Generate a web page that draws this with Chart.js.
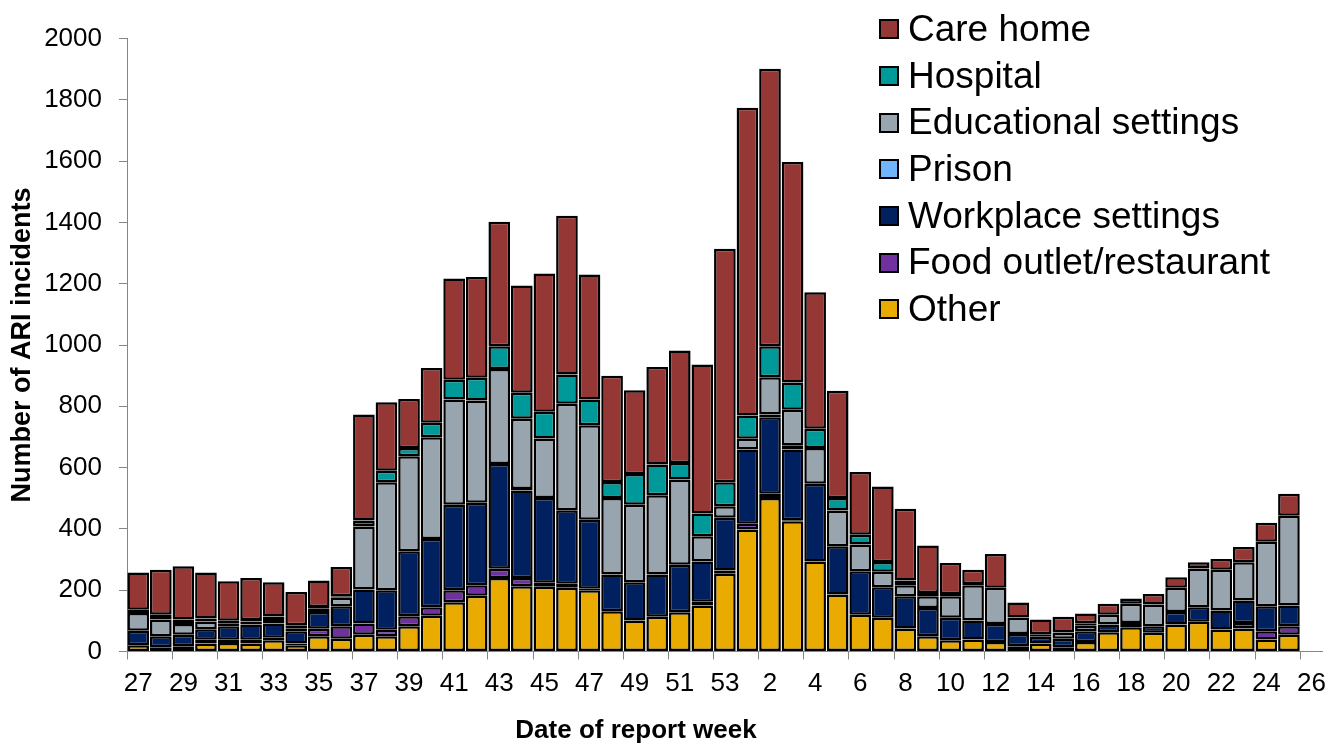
<!DOCTYPE html>
<html>
<head>
<meta charset="utf-8">
<title>ARI incidents by setting</title>
<script src="https://cdn.jsdelivr.net/npm/chart.js@4"></script>
<style>
	body { margin: 0; background: #fff; }
	#wrap { position: relative; width: 1335px; height: 747px; }
	#legend {
		position: absolute; left: 879px; top: 6px;
		font-family: 'Liberation Sans', Arial, sans-serif; font-size: 37px; color: #000;
	}
	.item { display: flex; align-items: center; height: 46.7px; line-height: 46.7px; white-space: nowrap; }
	.box { width: 16px; height: 16px; border: 2px solid #000; margin-right: 9px; }
	#xTitle {
		position: absolute; left: 0; width: 1272px; top: 713px; text-align: center;
		font: bold 26px 'Liberation Sans', Arial, sans-serif; line-height: 32px; color: #000;
	}
</style>
</head>
<body>
<div id="wrap">
	<canvas id="ariChart" width="1335" height="747"></canvas>
	<div id="legend"></div>
	<div id="xTitle">Date of report week</div>
</div>
<script>
// Report weeks (27-53 then 1-26)
const weeks = ['27', '28', '29', '30', '31', '32', '33', '34', '35', '36', '37', '38', '39', '40', '41', '42', '43', '44', '45', '46', '47', '48', '49', '50', '51', '52', '53',
	'1', '2', '3', '4', '5', '6', '7', '8', '9', '10', '11', '12', '13', '14', '15', '16', '17', '18', '19', '20', '21', '22', '23', '24', '25', '26'];

// Incidents per setting, one value per week (week 26 has no data yet)
const other = [20, 14, 17, 26, 28, 26, 37, 20, 50, 42, 55, 50, 82, 117, 161, 182, 240, 213, 211, 208, 200, 131, 101, 113, 128, 150, 254,
	398, 501, 425, 294, 186, 120, 110, 75, 50, 37, 39, 31, 17, 26, 14, 31, 63, 79, 61, 88, 97, 72, 75, 39, 55, null];
const foodOutlet = [0, 0, 0, 12, 10, 12, 8, 6, 24, 40, 36, 21, 33, 27, 39, 34, 30, 27, 13, 13, 5, 0, 0, 0, 0, 12, 10,
	19, 14, 3, 0, 0, 0, 0, 0, 0, 0, 0, 0, 0, 0, 0, 0, 0, 0, 0, 0, 0, 0, 18, 27, 27, null];
const workplace = [48, 36, 38, 35, 44, 50, 46, 40, 55, 66, 111, 129, 212, 223, 279, 269, 342, 285, 277, 240, 225, 120, 125, 138, 155, 132, 172,
	242, 249, 231, 253, 157, 142, 100, 105, 92, 73, 62, 59, 40, 22, 28, 35, 25, 14, 21, 41, 47, 62, 73, 82, 68, null];
const prison = [0, 0, 0, 0, 0, 0, 0, 0, 0, 0, 0, 0, 0, 0, 0, 0, 0, 5, 0, 0, 0, 0, 0, 0, 0, 0, 0,
	0, 9, 14, 0, 0, 0, 0, 0, 0, 0, 0, 0, 0, 0, 0, 0, 0, 0, 0, 0, 0, 0, 0, 0, 0, null];
const educational = [58, 54, 35, 25, 10, 10, 15, 10, 12, 27, 206, 352, 310, 332, 343, 334, 310, 229, 194, 347, 308, 250, 253, 259, 278, 82, 38,
	35, 122, 116, 117, 117, 87, 50, 36, 38, 70, 115, 118, 54, 8, 20, 18, 32, 63, 71, 79, 127, 133, 125, 210, 293, null];
const hospital = [10, 16, 14, 10, 8, 5, 8, 10, 4, 5, 19, 38, 27, 47, 65, 74, 74, 85, 87, 96, 84, 52, 100, 100, 54, 74, 78,
	76, 101, 89, 63, 41, 32, 32, 16, 11, 8, 4, 0, 0, 0, 0, 8, 0, 0, 0, 0, 0, 0, 0, 0, 0, null];
const careHome = [122, 147, 174, 150, 129, 137, 112, 108, 87, 96, 346, 223, 160, 179, 330, 329, 406, 350, 451, 518, 408, 347, 273, 318, 367, 486, 762,
	1004, 905, 719, 445, 350, 205, 246, 234, 155, 101, 47, 110, 49, 48, 51, 32, 36, 17, 35, 34, 20, 35, 50, 62, 72, null];

// Stack order, bottom first
const series = [
	{ label: 'Other', data: other, color: '#EAAB00' },
	{ label: 'Food outlet/restaurant', data: foodOutlet, color: '#7030A0' },
	{ label: 'Workplace settings', data: workplace, color: '#002060' },
	{ label: 'Prison', data: prison, color: '#6FB6FF' },
	{ label: 'Educational settings', data: educational, color: '#98A4AE' },
	{ label: 'Hospital', data: hospital, color: '#009999' },
	{ label: 'Care home', data: careHome, color: '#953735' }
];

const axisGrey = '#868686';
Chart.defaults.font.family = "'Liberation Sans', Arial, sans-serif";
Chart.defaults.color = '#000';

new Chart(document.getElementById('ariChart'), {
	type: 'bar',
	data: {
		labels: weeks,
		datasets: series.map((s) => ({
			label: s.label,
			data: s.data,
			backgroundColor: s.color,
			borderColor: '#000',
			borderWidth: 2.5,
			borderSkipped: false,
			barPercentage: 0.96,
			categoryPercentage: 1
		}))
	},
	options: {
		responsive: false,
		animation: false,
		devicePixelRatio: 1,
		layout: { padding: { top: 38.5, right: 5, left: 0, bottom: 0 } },
		plugins: { legend: { display: false }, tooltip: { enabled: false } },
		scales: {
			x: {
				stacked: true,
				grid: {
					drawOnChartArea: false,
					tickLength: 8,
					offset: true,
					color: (ctx) => (ctx.index !== undefined && ctx.index % 2 === 0 ? axisGrey : 'rgba(0,0,0,0)')
				},
				border: { display: true, color: axisGrey, width: 1 },
				ticks: {
					autoSkip: false,
					maxRotation: 0,
					padding: 9,
					font: { size: 26 },
					callback: function (value, index) {
						return index % 2 === 0 ? this.getLabelForValue(value) : '';
					}
				},
				afterFit: (scale) => { scale.height = 95.5; }
			},
			y: {
				stacked: true,
				min: 0,
				max: 2000,
				grid: { drawOnChartArea: false, tickLength: 8, color: axisGrey },
				border: { display: true, color: axisGrey, width: 1 },
				ticks: {
					stepSize: 200,
					padding: 17,
					font: { size: 26 },
					callback: (value) => String(value)
				},
				title: {
					display: true,
					text: 'Number of ARI incidents',
					font: { size: 27, weight: 'bold' },
					padding: { top: 6, bottom: 0 }
				},
				afterFit: (scale) => { scale.width = 127; }
			}
		}
	}
});

// Legend: top of stack first
const legendBox = document.getElementById('legend');
series.slice().reverse().forEach((s) => {
	const item = document.createElement('div');
	const box = document.createElement('span');
	const text = document.createElement('span');
	item.className = 'item';
	box.className = 'box';
	box.style.background = s.color;
	text.textContent = s.label;
	item.append(box, text);
	legendBox.append(item);
});
</script>
</body>
</html>
